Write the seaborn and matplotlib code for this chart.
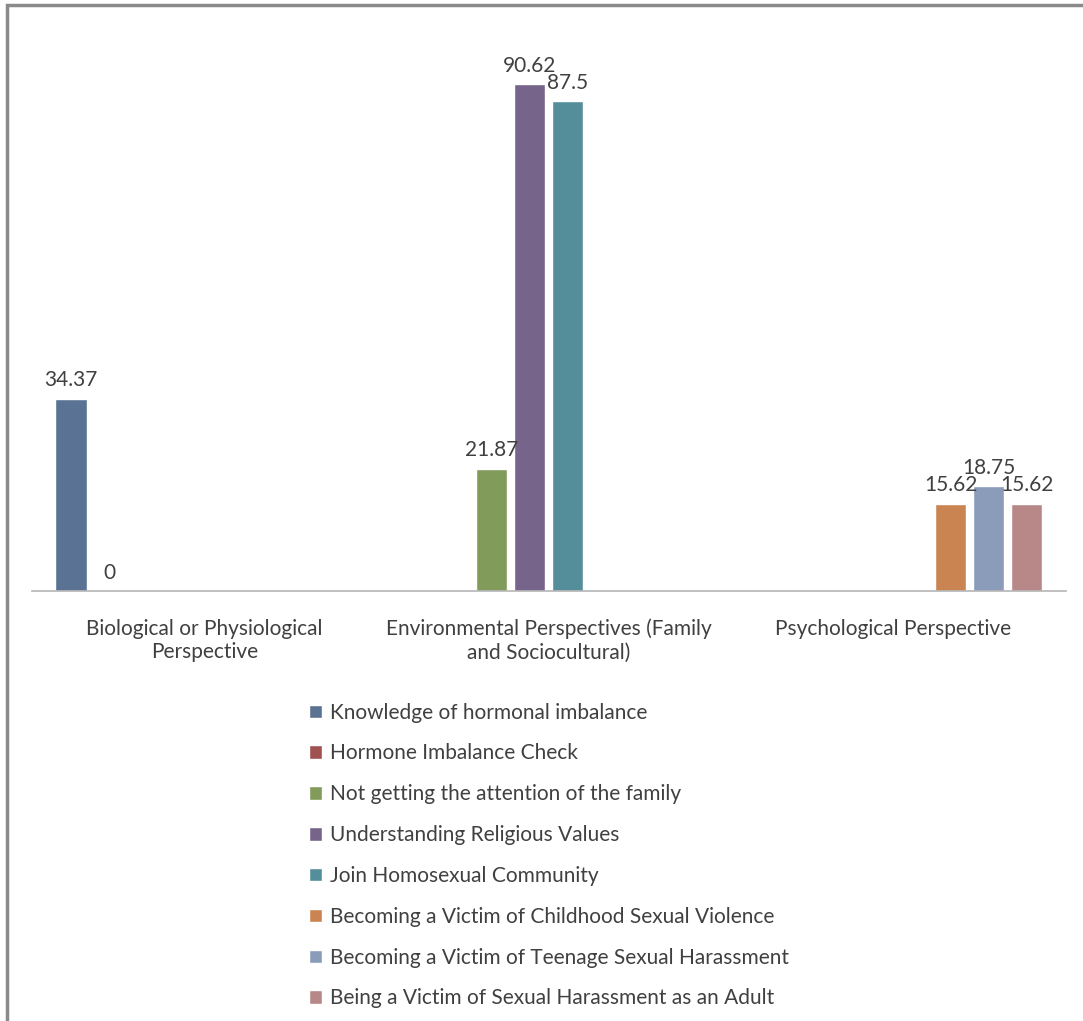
import pandas as pd
import matplotlib.pyplot as plt
import seaborn as sns
from matplotlib.patches import Rectangle

# categories and series
categories = [
    "Biological or Physiological\nPerspective",
    "Environmental Perspectives (Family\nand Sociocultural)",
    "Psychological Perspective",
]
series = [
    "Knowledge of hormonal imbalance",
    "Hormone Imbalance Check",
    "Not getting the attention of the family",
    "Understanding Religious Values",
    "Join Homosexual Community",
    "Becoming a Victim of Childhood Sexual Violence",
    "Becoming a Victim of Teenage Sexual Harassment",
    "Being a Victim of Sexual Harassment as an Adult",
]
# which category each series belongs to, and its value
series_category = [0, 0, 1, 1, 1, 2, 2, 2]
values = [34.37, 0, 21.87, 90.62, 87.5, 15.62, 18.75, 15.62]
colors = ["#5a7394", "#a05252", "#819b5a", "#76648a", "#548e9a",
          "#c98451", "#8b9bba", "#b88787"]

df = pd.DataFrame({
    "category": [categories[i] for i in series_category],
    "series": series,
    "value": values,
})

sns.set_style("white")
plt.rcParams['font.family'] = ['Lato', 'DejaVu Sans']

fig = plt.figure(figsize=(10.83, 10.21), dpi=100)
ax = fig.add_axes([0.0295, 0.4212, 0.9545, 0.548])

sns.barplot(data=df, x="category", y="value", hue="series",
            order=categories, hue_order=series, palette=colors,
            width=0.884, gap=0.18, saturation=1, ax=ax, legend=True)

for cont in ax.containers:
    ax.bar_label(cont, fmt="%g", fontsize=15, color="#404040", padding=6)

ax.set_ylim(0, 100)
ax.set_xlim(-0.5, 2.5)
ax.set_xlabel("")
ax.set_ylabel("")
ax.set_yticks([])
ax.tick_params(axis="x", length=0, labelsize=15, labelcolor="#404040", pad=20)
for side in ["top", "right", "left"]:
    ax.spines[side].set_visible(False)
ax.spines["bottom"].set_color("#b5b5b5")
ax.spines["bottom"].set_linewidth(1.2)

handles, labels = ax.get_legend_handles_labels()
ax.get_legend().remove()
fig.legend(handles, labels, loc="upper left", bbox_to_anchor=(0.278, 0.32),
           frameon=False, fontsize=15, labelcolor="#404040",
           handlelength=0.62, handleheight=0.62, handletextpad=0.35,
           labelspacing=1.0, borderaxespad=0)

# outer chart frame (only top and left edges visible in the crop)
fig.patches.append(Rectangle((0.0065, -0.05), 1.1, 1.045, transform=fig.transFigure,
                             fill=False, edgecolor="#8a8a8a", linewidth=2.5))

fig.savefig("out.png", dpi=100)
